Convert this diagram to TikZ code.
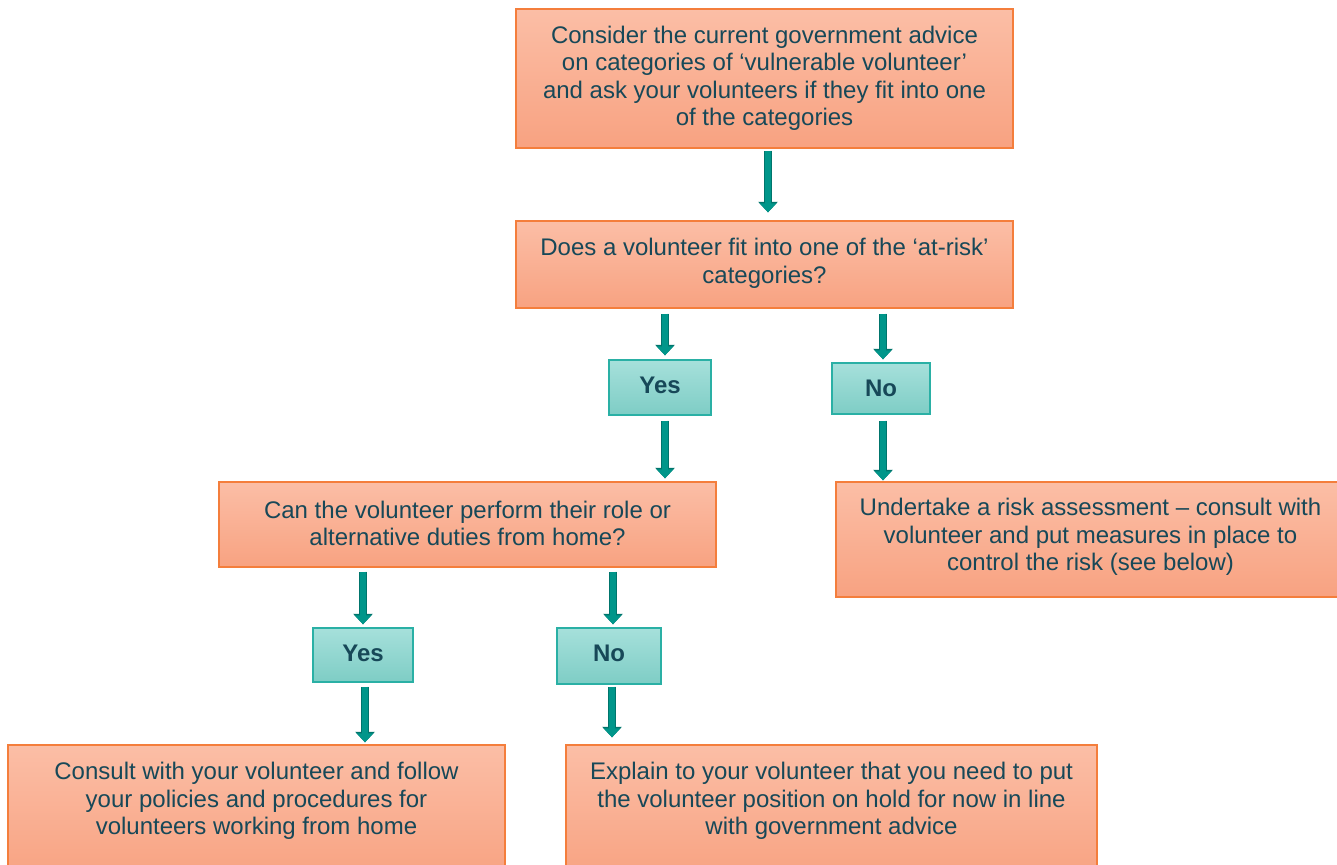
\documentclass[tikz,border=0pt]{standalone}
\usepackage{fontspec}
\setmainfont{Liberation Sans}
\usetikzlibrary{arrows.meta}
\definecolor{otop}{HTML}{FBBEA6}
\definecolor{obot}{HTML}{F8A281}
\definecolor{oborder}{HTML}{F47E3C}
\definecolor{ttop}{HTML}{A6E0DB}
\definecolor{tbot}{HTML}{7ECDC5}
\definecolor{tborder}{HTML}{2AB0A5}
\definecolor{txtcol}{HTML}{174858}
\definecolor{arrfill}{HTML}{00968A}
\definecolor{arrline}{HTML}{00756C}
\tikzset{
  obox/.style={draw=oborder, line width=1.3pt, top color=otop, bottom color=obot, inner sep=0pt, rectangle},
  tbox/.style={draw=tborder, line width=1.3pt, top color=ttop, bottom color=tbot, inner sep=0pt, rectangle},
  tlab/.style={text=txtcol, inner sep=0pt, font=\fontsize{24}{27}\selectfont\bfseries},
  txt/.style={text=txtcol, align=center, inner sep=0pt, font=\fontsize{24}{27.5}\selectfont},
  arr/.style={draw=arrfill, line width=5.5pt, -{Triangle[width=16pt,length=9pt]},
    preaction={draw=arrline, line width=8pt, -{Triangle[width=19pt,length=10.5pt]}}}
}
\begin{document}
\begin{tikzpicture}[x=1pt,y=-1pt]
\useasboundingbox (0,0) rectangle (1337,864);
\clip (0,0) rectangle (1337,864);
\fill[white] (0,0) rectangle (1337,864);
% boxes
\node[obox, minimum width=497pt, minimum height=139pt] (b1) at (764.5,78.5) {};
\node[txt] (b1t) at (764.5,78.5) {Consider the current government advice\\on categories of ‘vulnerable volunteer’\\and ask your volunteers if they fit into one\\of the categories};
\node[obox, minimum width=497pt, minimum height=87pt] (b2) at (764.5,264.5) {};
\node[txt] (b2t) at (764.5,263.5) {Does a volunteer fit into one of the ‘at-risk’\\categories?};
\node[tbox, minimum width=102pt, minimum height=55pt] (yes1) at (660,387.5) {};
\node[tlab] (yes1t) at (660,385) {Yes};
\node[tbox, minimum width=98pt, minimum height=51pt] (no1) at (881,388.5) {};
\node[tlab] (no1t) at (881,388) {No};
\node[obox, minimum width=497pt, minimum height=85pt] (b3) at (467.5,524.5) {};
\node[txt] (b3t) at (467.5,523.5) {Can the volunteer perform their role or\\alternative duties from home?};
\node[obox, minimum width=509pt, minimum height=115pt] (b4) at (1090.5,539.5) {};
\node[txt] (b4t) at (1090.5,537) {Undertake a risk assessment – consult with\\volunteer and put measures in place to\\control the risk (see below)};
\node[tbox, minimum width=100pt, minimum height=54pt] (yes2) at (363,655) {};
\node[tlab] (yes2t) at (363,653) {Yes};
\node[tbox, minimum width=104pt, minimum height=56pt] (no2) at (609,656) {};
\node[tlab] (no2t) at (609,653) {No};
\node[obox, minimum width=497pt, minimum height=135pt] (b5) at (256.5,812.5) {};
\node[txt] (b5t) at (256.5,801) {Consult with your volunteer and follow\\your policies and procedures for\\volunteers working from home};
\node[obox, minimum width=531pt, minimum height=135pt] (b6) at (831.5,812.5) {};
\node[txt] (b6t) at (831.5,801) {Explain to your volunteer that you need to put\\the volunteer position on hold for now in line\\with government advice};
% arrows
\draw[arr] ([xshift=3.5pt,yshift=-2pt]b1.south) -- ([xshift=3.5pt,yshift=8pt]b2.north);
\draw[arr] ([xshift=-99.5pt,yshift=-5pt]b2.south) -- ([xshift=5pt,yshift=4pt]yes1.north);
\draw[arr] ([xshift=118.5pt,yshift=-5pt]b2.south) -- ([xshift=2pt,yshift=3pt]no1.north);
\draw[arr] ([xshift=5pt,yshift=-5pt]yes1.south) -- ([xshift=197.5pt,yshift=3pt]b3.north);
\draw[arr] ([xshift=2pt,yshift=-6pt]no1.south) -- ([xshift=-207.5pt,yshift=1pt]b4.north);
\draw[arr] ([xshift=-104.5pt,yshift=-4pt]b3.south) -- ([yshift=3pt]yes2.north);
\draw[arr] ([xshift=145.5pt,yshift=-4pt]b3.south) -- ([xshift=4pt,yshift=3pt]no2.north);
\draw[arr] ([xshift=2pt,yshift=-4pt]yes2.south) -- ([xshift=108.5pt,yshift=2pt]b5.north);
\draw[arr] ([xshift=3pt,yshift=-2pt]no2.south) -- ([xshift=-219.5pt,yshift=7pt]b6.north);
\end{tikzpicture}
\end{document}
